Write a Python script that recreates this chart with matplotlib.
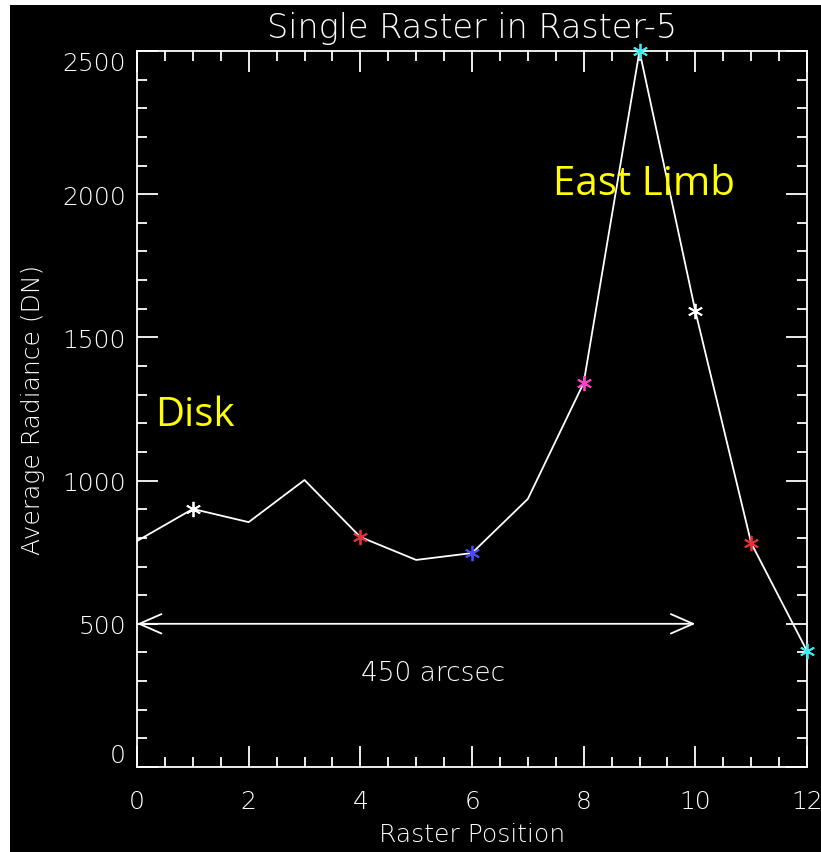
import matplotlib.pyplot as plt
from matplotlib.patches import Rectangle
from matplotlib.ticker import MultipleLocator

plt.rcParams['font.weight'] = 'light'
plt.rcParams['axes.titleweight'] = 'light'
plt.rcParams['axes.labelweight'] = 'light'

# raster position vs average radiance
positions = [0, 1, 2, 3, 4, 5, 6, 7, 8, 9, 10, 11, 12]
radiance = [789, 901, 855, 1002, 803, 723, 747, 936, 1341, 2500, 1592, 782, 405]

# positions that carry an asterisk marker, and their colours
marked_pos = [1, 4, 6, 8, 9, 10, 11, 12]
marked_col = ['white', '#e8303a', '#4a4aff', '#ff40c8', '#40e8f0', 'white', '#e8303a', '#40e8f0']

arrow_span = [0, 10]
arrow_level = 500

fig = plt.figure(figsize=(8.21, 8.53), dpi=100, facecolor='white')
# black panel (white strip on left and top like the screenshot)
fig.patches.append(Rectangle((10 / 821, 0), 1, 1 - 6 / 853, transform=fig.transFigure,
                             facecolor='black', edgecolor='none', zorder=-10))

ax = fig.add_axes([137 / 821, 1 - 768 / 853, (807 - 137) / 821, (768 - 52) / 853])
ax.set_facecolor('black')

ax.plot(positions, radiance, color='white', lw=1.3, zorder=2)
for p, c in zip(marked_pos, marked_col):
    ax.plot(p, radiance[positions.index(p)], marker=(6, 2, 0), color=c, ms=11, mew=1.3,
            ls='none', zorder=3, clip_on=False)

ax.annotate('', xy=(arrow_span[1], arrow_level), xytext=(arrow_span[0], arrow_level),
            arrowprops=dict(arrowstyle='<->,head_length=1.6,head_width=0.7',
                            color='white', lw=1.3, shrinkA=0, shrinkB=0))
ax.text(5.3, 330, '450 arcsec', color='white', fontsize=19, ha='center', va='center')

ax.text(0.33, 1230, 'Disk', color='#ffff00', fontsize=29, family='Open Sans',
        fontweight='normal', ha='left', va='center')
ax.text(7.45, 2035, 'East Limb', color='#ffff00', fontsize=29, family='Open Sans',
        fontweight='normal', ha='left', va='center')

ax.set_xlim(0, 12)
ax.set_ylim(0, 2500)
ax.xaxis.set_major_locator(MultipleLocator(2))
ax.xaxis.set_minor_locator(MultipleLocator(0.5))
ax.yaxis.set_major_locator(MultipleLocator(500))
ax.yaxis.set_minor_locator(MultipleLocator(100))
ax.tick_params(which='both', direction='in', top=True, right=True, colors='white',
               labelsize=18, width=1.3)
ax.tick_params(axis='x', pad=16)
ax.tick_params(axis='y', pad=8)
ax.tick_params(which='major', length=15)
ax.tick_params(which='minor', length=7)
for s in ax.spines.values():
    s.set_color('white')
    s.set_linewidth(1.3)

ax.set_title('Single Raster in Raster-5', color='white', fontsize=24, pad=10)
ax.set_xlabel('Raster Position', color='white', fontsize=18, labelpad=6)
ax.set_ylabel('Average Radiance (DN)', color='white', fontsize=18, labelpad=12)

# end labels kept inside the axis range, as IDL does
fig.canvas.draw()
yticks = ax.yaxis.get_major_ticks()
yvals = ax.get_yticks()
for t, v in zip(yticks, yvals):
    if v == 0:
        t.label1.set_va('bottom')
    elif v == 2500:
        t.label1.set_va('top')

fig.savefig('out.png', dpi=100, facecolor=fig.get_facecolor())
